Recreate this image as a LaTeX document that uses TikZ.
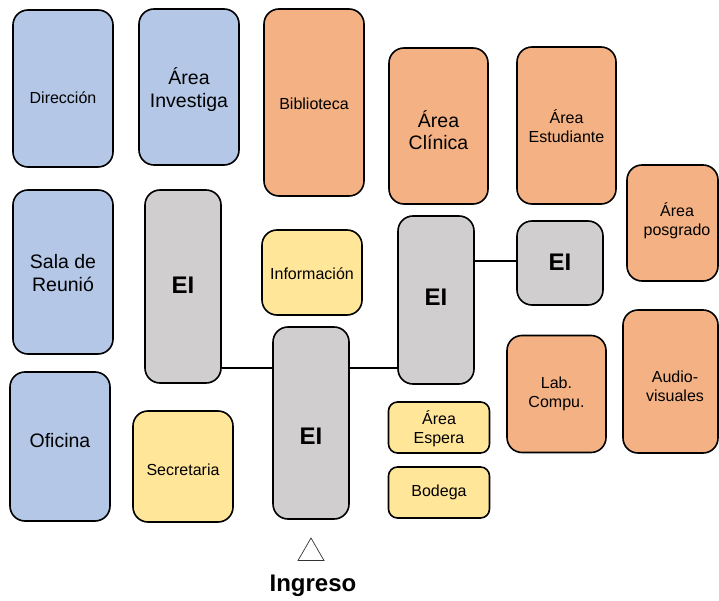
\documentclass[tikz,border=0pt]{standalone}
\usepackage{fontspec}
\setmainfont{Liberation Sans}
\usetikzlibrary{shapes.geometric}
\definecolor{cblue}{HTML}{B4C7E7}
\definecolor{corange}{HTML}{F4B183}
\definecolor{cyellow}{HTML}{FFE699}
\definecolor{cgray}{HTML}{D0CECE}
\tikzset{
  room/.style={draw=black, line width=1.6pt, rounded corners=15pt, inner sep=0pt},
  smallroom/.style={room, rounded corners=9pt},
  sm/.style={font=\fontsize{16}{19}\selectfont, align=center, inner sep=0pt},
  lg/.style={font=\fontsize{19.5}{22.5}\selectfont, align=center, inner sep=0pt},
  eitxt/.style={font=\fontsize{24}{28}\selectfont\bfseries, inner sep=0pt},
  conn/.style={draw=black, line width=1.6pt}
}
\begin{document}
\begin{tikzpicture}[x=1pt, y=-1pt]
\useasboundingbox (0,0) rectangle (719,601);
% blue
\node[room, fill=cblue, minimum width=100pt, minimum height=157pt,
  label={[sm, yshift=-9.5pt]center:Dirección}] (dir) at (63,88.5) {};
\node[room, fill=cblue, minimum width=100pt, minimum height=156pt,
  label={[lg, yshift=-2.5pt]center:Área\\Investiga}] (inv) at (189,87) {};
\node[room, fill=cblue, minimum width=100pt, minimum height=164pt,
  label={[lg, yshift=-1pt]center:Sala de\\Reunió}] (sala) at (63,272) {};
\node[room, fill=cblue, minimum width=100pt, minimum height=149pt,
  label={[lg, yshift=5.5pt]center:Oficina}] (ofi) at (60,446.5) {};
% orange
\node[room, fill=corange, minimum width=100pt, minimum height=187pt,
  label={[sm, yshift=-1.5pt]center:Biblioteca}] (bib) at (314,102.5) {};
\node[room, fill=corange, minimum width=99pt, minimum height=156pt,
  label={[lg, yshift=-4pt]center:Área\\Clínica}] (cli) at (438.5,126) {};
\node[room, fill=corange, minimum width=99pt, minimum height=157pt,
  label={[sm, yshift=-1pt]center:Área\\Estudiante}] (est) at (566.5,125.5) {};
\node[room, fill=corange, minimum width=91pt, minimum height=116pt,
  label={[sm, yshift=2pt, xshift=4.5pt]center:Área\\posgrado}] (pos) at (672.5,223) {};
\node[room, fill=corange, minimum width=99pt, minimum height=117pt,
  label={[sm]center:Lab.\\Compu.}] (lab) at (556.5,394) {};
\node[room, fill=corange, minimum width=95pt, minimum height=143pt,
  label={[sm, yshift=-5pt, xshift=4.5pt]center:Audio-\\visuales}] (aud) at (670.5,381.5) {};
% yellow
\node[room, fill=cyellow, minimum width=100pt, minimum height=85pt,
  label={[sm, yshift=-1.5pt]center:Información}] (info) at (312,272.5) {};
\node[room, fill=cyellow, minimum width=100pt, minimum height=111pt,
  label={[sm, yshift=-3pt]center:Secretaria}] (sec) at (183,466.5) {};
\node[smallroom, fill=cyellow, minimum width=101pt, minimum height=51pt,
  label={[sm, yshift=-1.5pt]center:Área\\Espera}] (esp) at (439,427.5) {};
\node[smallroom, fill=cyellow, minimum width=101pt, minimum height=51pt,
  label={[sm]center:Bodega}] (bod) at (439,492.5) {};
% gray EI
\node[room, fill=cgray, minimum width=76pt, minimum height=193pt,
  label={[eitxt, yshift=1.5pt]center:EI}] (eiL) at (183,286.5) {};
\node[room, fill=cgray, minimum width=76pt, minimum height=192pt,
  label={[eitxt, yshift=-13.5pt]center:EI}] (eiC) at (311,423) {};
\node[room, fill=cgray, minimum width=76pt, minimum height=168pt,
  label={[eitxt, yshift=3pt]center:EI}] (eiR) at (436,300) {};
\node[room, fill=cgray, minimum width=86pt, minimum height=84pt,
  label={[eitxt, yshift=1pt]center:EI}] (eiS) at (560,263) {};
% connectors
\coordinate (row1) at (0,368);
\coordinate (row2) at (0,261);
\draw[conn] (eiL.east |- row1) -- (eiC.west |- row1);
\draw[conn] (eiC.east |- row1) -- (eiR.west |- row1);
\draw[conn] (eiR.east |- row2) -- (eiS.west |- row2);
% entrance
\node[draw=black!80, line width=0.7pt, regular polygon, regular polygon sides=3,
  minimum size=30pt, inner sep=0pt] (tri) at (311,553) {};
\node[eitxt] (ing) at (313,586) {Ingreso};
\end{tikzpicture}
\end{document}
